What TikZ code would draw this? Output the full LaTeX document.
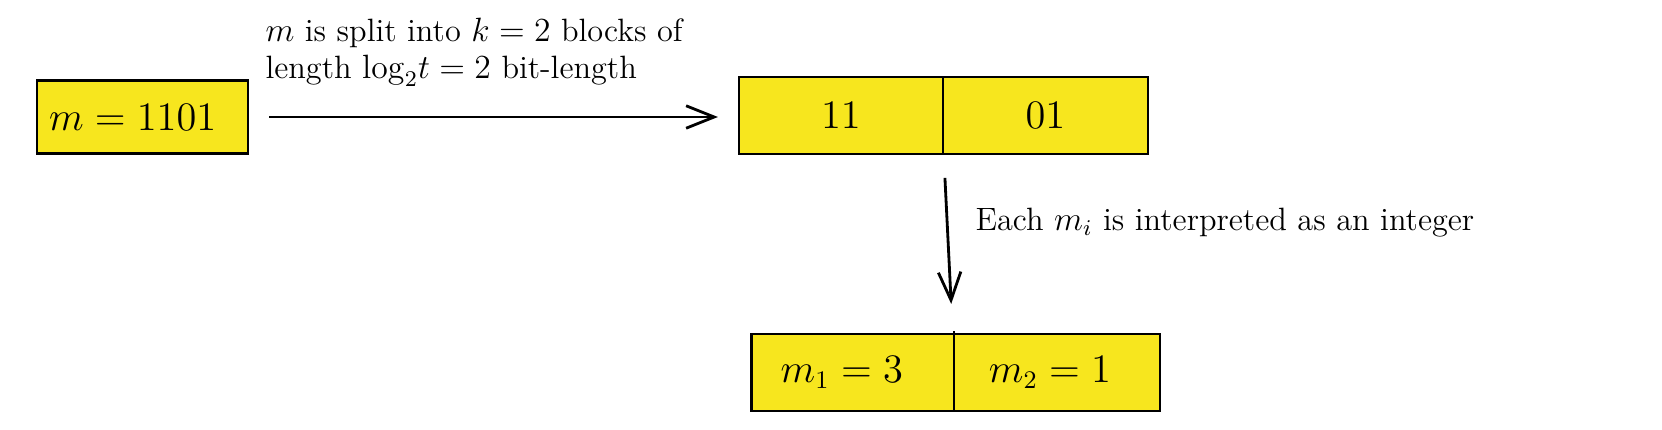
\documentclass[tikz,border=0pt]{standalone}
\usetikzlibrary{arrows.meta}
\definecolor{boxyellow}{RGB}{247,230,30}
\begin{document}
\begin{tikzpicture}[x=0.356pt,y=-0.356pt,
  cell/.style={draw=black,fill=boxyellow,line width=1pt,inner sep=0pt,outer sep=0pt,
    minimum height=27.4pt,font=\fontsize{13.3}{16}\selectfont},
  arr/.style={-{Straight Barb[length=10pt,width=8pt,line width=1pt]},line width=1pt},
  lbl/.style={inner sep=0pt,font=\fontsize{11.5}{13.2}\selectfont,align=left}]
\useasboundingbox (0,0) rectangle (1662,430);
% box 1
\node[cell,minimum width=75.1pt,minimum height=26pt,text width=66.5pt,align=left] (a) at (142.5,117) {$m=1101$};
% box 2
\node[cell,minimum width=72.6pt] (b1) at (841,115.5) {$11$};
\node[cell,minimum width=73pt,anchor=west] (b2) at (b1.east) {$01$};
% box 3
\node[cell,minimum width=72.1pt] (c1) at (852.75,372.5) {$m_1=3$\hspace*{7.8pt}};
\node[cell,minimum width=73.3pt,anchor=west] (c2) at (c1.east) {$m_2=1$\hspace*{5pt}};
\draw[line width=1pt] (c1.north east) -- ++(0,-3);
% arrows
\draw[arr] ([xshift=7.5pt]a.east) -- ([xshift=-7.5pt]a.east -| b1.west);
\draw[arr] ([xshift=0.7pt,yshift=-8.5pt]b1.south east) -- ([xshift=-1pt,yshift=10.7pt]c1.north east);
% labels
\node[lbl,anchor=west] (l1) at (265,52) {$m$ is split into $k=2$ blocks of\\ length $\log_2\! t=2$ bit-length};
\node[lbl,anchor=west] (l2) at (975,223) {Each $m_i$ is interpreted as an integer};
\end{tikzpicture}
\end{document}
